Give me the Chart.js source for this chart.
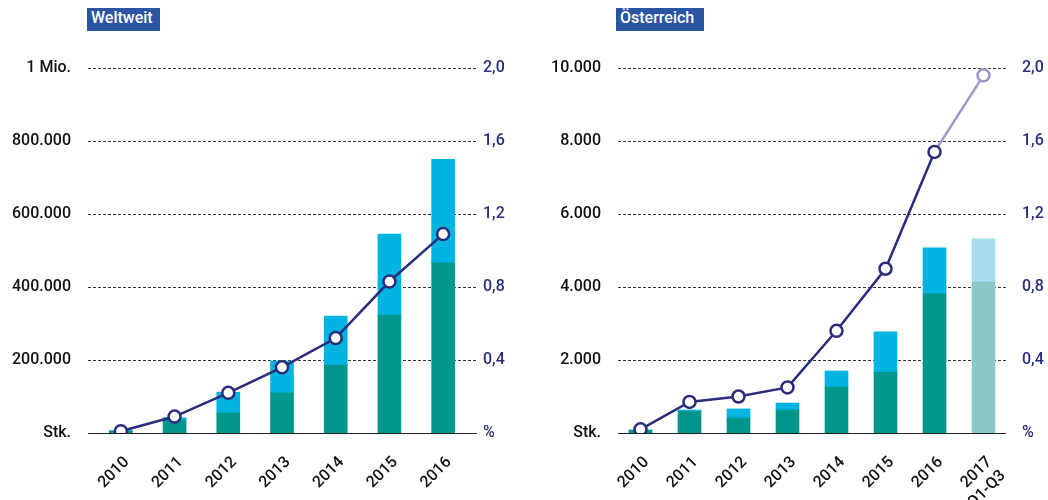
<!DOCTYPE html>
<html><head><meta charset="utf-8">
<script src="https://cdn.jsdelivr.net/npm/chart.js@4/dist/chart.umd.min.js"></script>
<style>
html,body{margin:0;padding:0;background:#fff;}
#wrap{position:relative;width:1048px;height:500px;overflow:hidden;}
.title{position:absolute;top:8px;height:23px;line-height:23px;background:#2B54A3;color:#fff;font:500 16px Roboto,sans-serif;padding:0 4px;box-sizing:border-box;}
.pane{position:absolute;top:0;width:524px;height:500px;}
</style></head>
<body>
<div id="wrap">
  <div class="pane" style="left:0"><canvas id="c1" width="524" height="500"></canvas></div>
  <div class="pane" style="left:524px"><canvas id="c2" width="524" height="500"></canvas></div>
  <div class="title" style="left:87px;width:73px">Weltweit</div>
  <div class="title" style="left:616px;width:88px">Österreich</div>
</div>
<script>
// ---- data ----
const yearsWorld = ['2010','2011','2012','2013','2014','2015','2016'];
const worldBEV   = [5000, 36000, 55000, 110000, 186000, 323000, 466000];
const worldPHEV  = [2000, 6000, 57000, 87000, 134000, 222000, 284000];
const worldShare = [0.01, 0.09, 0.22, 0.36, 0.52, 0.83, 1.09];

const yearsAT = ['2010','2011','2012','2013','2014','2015','2016',['2017','Q1-Q3']];
const atBEV   = [80, 595, 410, 630, 1260, 1670, 3810, 4140];
const atPHEV  = [0, 35, 250, 190, 440, 1100, 1260, 1180];
const atShare = [0.02, 0.17, 0.20, 0.25, 0.56, 0.90, 1.54, 1.96];

const worldTicksMax = 1000000, worldStep = 200000;
const atTicksMax = 10000, atStep = 2000;
const shareMax = 2.0, shareStep = 0.4;

// ---- styles ----
const TEAL = '#00968C', CYAN = '#00B4E1', TEAL_L = '#8CC8C5', CYAN_L = '#A9DBF1';
const NAVY = '#2A2D7C', NAVY_L = '#9B96CB';
const FONT = {family: 'Roboto, sans-serif', size: 16, weight: '500'};

function fmtThousands(v){ return String(v).replace(/\B(?=(\d{3})+(?!\d))/g, '.'); }

const gridPlugin = {
  id: 'dashGrid',
  beforeDatasetsDraw(chart, args, opts){
    const ctx = chart.ctx, ys = chart.scales.y;
    ctx.save();
    ctx.lineWidth = 1;
    ctx.strokeStyle = '#333';
    ctx.setLineDash([3,2]);
    ys.ticks.forEach(t => {
      if (t.value === 0) return;
      const y = Math.round(ys.getPixelForValue(t.value)) + 0.5;
      ctx.beginPath(); ctx.moveTo(opts.left, y); ctx.lineTo(opts.right, y); ctx.stroke();
    });
    ctx.setLineDash([]);
    ctx.strokeStyle = '#222';
    const y0 = Math.round(ys.getPixelForValue(0)) + 0.5;
    ctx.beginPath(); ctx.moveTo(opts.left, y0); ctx.lineTo(opts.right, y0); ctx.stroke();
    ctx.restore();
  }
};

function makeChart(id, labels, bev, phev, share, cfg){
  const n = labels.length;
  const bevColors = labels.map((l,i) => (cfg.lightLast && i === n-1) ? TEAL_L : TEAL);
  const phevColors = labels.map((l,i) => (cfg.lightLast && i === n-1) ? CYAN_L : CYAN);
  const ptColors = labels.map((l,i) => (cfg.lightLast && i === n-1) ? NAVY_L : NAVY);
  return new Chart(document.getElementById(id), {
    type: 'bar',
    data: {
      labels: labels,
      datasets: [
        {type:'line', data: share, yAxisID:'y1', order:0, borderColor: NAVY, borderWidth: 2.5,
         pointRadius: 6, pointBorderWidth: 2.5, pointBackgroundColor:'#fff', pointBorderColor: ptColors,
         tension: 0, fill:false,
         segment: {borderColor: c => (cfg.lightLast && c.p1DataIndex === n-1) ? NAVY_L : NAVY}},
        {data: bev, backgroundColor: bevColors, stack:'s', order:1, barThickness: 23, yAxisID:'y'},
        {data: phev, backgroundColor: phevColors, stack:'s', order:1, barThickness: 23, yAxisID:'y'}
      ]
    },
    options: {
      responsive: false, animation: false, devicePixelRatio: 1,
      layout: {padding: {top: 68, left: 0, right: 0, bottom: 0}},
      plugins: {legend:{display:false}, tooltip:{enabled:false}, title:{display:false},
                dashGrid: {left: cfg.gridLeft, right: cfg.gridRight}},
      scales: {
        x: {stacked: true, offset: true, grid:{display:false}, border:{display:false},
            ticks:{color:'#111', font: FONT, minRotation:45, maxRotation:45, autoSkip:false,
                   padding: cfg.xPad, labelOffset: cfg.xShift},
            afterFit: s => { s.height = 67; }},
        y: {stacked: true, position:'left', min:0, max: cfg.yMax,
            grid:{display:false, drawTicks:false}, border:{display:false},
            ticks:{stepSize: cfg.yStep, color:'#111', font: FONT, padding: cfg.leftPad,
                   callback: v => v === 0 ? 'Stk.' : (v === 1000000 ? '1 Mio.' : fmtThousands(v))},
            afterFit: s => { s.width = cfg.leftW; }},
        y1: {position:'right', min:0, max: shareMax,
            grid:{display:false, drawTicks:false}, border:{display:false},
            ticks:{stepSize: shareStep, color: NAVY, font: FONT, padding: cfg.rightPad,
                   callback: v => v === 0 ? '%' : v.toFixed(1).replace('.', ',')},
            afterFit: s => { s.width = cfg.rightW; }}
      }
    },
    plugins: [gridPlugin]
  });
}

makeChart('c1', yearsWorld, worldBEV, worldPHEV, worldShare, {
  yMax: worldTicksMax, yStep: worldStep, leftW: 94, rightW: 54, leftPad: 23, rightPad: 13,
  gridLeft: 88, gridRight: 477, xPad: 12, xShift: 6, lightLast: false});
makeChart('c2', yearsAT, atBEV, atPHEV, atShare, {
  yMax: atTicksMax, yStep: atStep, leftW: 92, rightW: 40, leftPad: 15, rightPad: 14,
  gridLeft: 94, gridRight: 482, xPad: 12, xShift: 6, lightLast: true});
</script>
</body></html>
